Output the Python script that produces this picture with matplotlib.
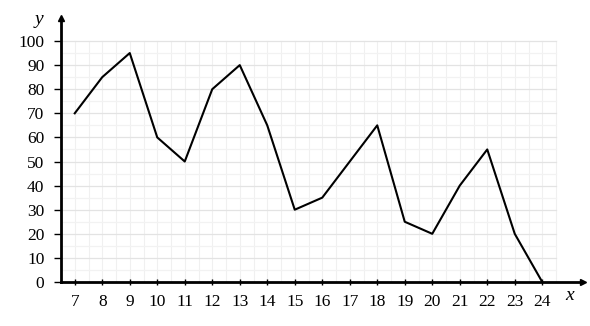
import numpy as np
import matplotlib.pyplot as plt

# data
x = [7, 8, 9, 10, 11, 12, 13, 14, 15, 16, 17, 18, 19, 20, 21, 22, 23, 24]
y = [70, 85, 95, 60, 50, 80, 90, 65, 30, 35, 50, 65, 25, 20, 40, 55, 20, 0]
yticks = list(range(0, 101, 10))

plt.rcParams['font.family'] = ['Liberation Serif', 'DejaVu Serif']

fig = plt.figure(figsize=(5.9, 3.26), dpi=100)
ax = fig.add_axes([61 / 590, 1 - 282 / 326, (583 - 61) / 590, (282 - 18) / 326])

x0, x1 = 6.5, 24.5
ax.set_xlim(x0, x0 + (583 - 61) / 27.5)
ax.set_ylim(0, (282 - 18) / 2.41)

# faint grid: verticals every half unit, horizontals every 5 (darker at 10)
for v in np.arange(x0, x1 + 0.01, 0.5):
    ax.plot([v, v], [0, 100], color='#f0f0f0', lw=0.8, zorder=0)
for v in range(0, 101, 5):
    ax.plot([x0, x1], [v, v], color='#e3e3e3' if v % 10 == 0 else '#f2f2f2', lw=0.9, zorder=0)

ax.plot(x, y, color='black', lw=1.5, zorder=3)

for s in ['top', 'right']:
    ax.spines[s].set_visible(False)
ax.spines['left'].set_linewidth(2)
ax.spines['bottom'].set_linewidth(2)
ax.plot(1, 0, '>k', ms=5, transform=ax.transAxes, clip_on=False)
ax.plot(0, 1, '^k', ms=5, transform=ax.transAxes, clip_on=False)

ax.set_xticks(x)
ax.set_yticks(yticks)
ax.tick_params(axis='x', direction='inout', length=5, width=1, labelsize=12.5, pad=6)
ax.tick_params(axis='y', direction='out', length=5, width=1, labelsize=12.5, pad=7)

fig.text(570 / 590, 1 - 296 / 326, 'x', style='italic', fontsize=14, ha='center', va='center')
fig.text(39 / 590, 1 - 19 / 326, 'y', style='italic', fontsize=14, ha='center', va='center')

fig.savefig('out.png', dpi=100)
